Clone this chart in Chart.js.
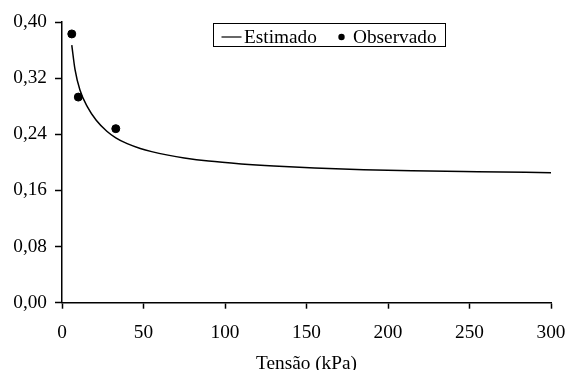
<!DOCTYPE html>
<html>
<head>
<meta charset="utf-8">
<script src="https://cdn.jsdelivr.net/npm/chart.js@4/dist/chart.umd.min.js"></script>
<style>
  html, body { margin: 0; padding: 0; background: #fff; }
  #wrap { width: 568px; height: 370px; }
</style>
</head>
<body>
<div id="wrap"><canvas id="grafico" width="568" height="370"></canvas></div>
<script>
// Curva estimada
const tensaoEst = [6, 8, 11, 15.6, 21, 27.5, 33, 40, 48, 55, 65, 75, 90, 110, 130, 155, 185, 215, 255, 300];
const umidEst = [0.367, 0.332, 0.303, 0.279, 0.260, 0.2444, 0.235, 0.2266, 0.2198, 0.2153, 0.2103, 0.2063, 0.2018, 0.1978, 0.1948, 0.192, 0.1896, 0.1881, 0.1867, 0.1853];

// Pontos observados
const tensaoObs = [6, 10, 33];
const umidObs = [0.383, 0.293, 0.248];

// Eixos
const xTicks = [0, 50, 100, 150, 200, 250, 300];
const yTicks = [0, 0.08, 0.16, 0.24, 0.32, 0.40];

const fonte = { family: "'Liberation Serif', 'Times New Roman', serif", size: 19.3 };

// Legenda com moldura dentro da área do gráfico
const legendaCaixa = {
  id: "legendaCaixa",
  afterDraw(chart) {
    const ctx = chart.ctx;
    ctx.save();
    ctx.strokeStyle = "#000";
    ctx.lineWidth = 1;
    ctx.strokeRect(213.5, 23.5, 232, 23);
    ctx.lineWidth = 1.2;
    ctx.beginPath();
    ctx.moveTo(221.5, 37);
    ctx.lineTo(241.5, 37);
    ctx.stroke();
    ctx.fillStyle = "#000";
    ctx.beginPath();
    ctx.arc(341.5, 37, 3.2, 0, Math.PI * 2);
    ctx.fill();
    ctx.font = fonte.size + "px " + fonte.family;
    ctx.textBaseline = "alphabetic";
    ctx.fillText(chart.data.datasets[0].label, 244, 43);
    ctx.fillText(chart.data.datasets[1].label, 353, 43);
    ctx.restore();
  }
};

const ctx = document.getElementById("grafico").getContext("2d");

new Chart(ctx, {
  type: "line",
  data: {
    datasets: [{
      label: "Estimado",
      data: tensaoEst.map((x, i) => ({ x: x, y: umidEst[i] })),
      borderColor: "#000",
      borderWidth: 1.5,
      pointRadius: 0,
      cubicInterpolationMode: "monotone",
      fill: false
    }, {
      label: "Observado",
      data: tensaoObs.map((x, i) => ({ x: x, y: umidObs[i] })),
      showLine: false,
      pointRadius: 4,
      pointBackgroundColor: "#000",
      pointBorderColor: "#000"
    }]
  },
  options: {
    responsive: false,
    animation: false,
    layout: { padding: { top: 22, right: 17, left: 0, bottom: 0 } },
    plugins: {
      legend: { display: false },
      tooltip: { enabled: false }
    },
    scales: {
      x: {
        type: "linear",
        min: 0,
        max: 300,
        afterBuildTicks: s => { s.ticks = xTicks.map(v => ({ value: v })); },
        afterFit: s => { s.height = 67.3; },
        grid: { display: true, drawOnChartArea: false, drawTicks: true, tickLength: 6, tickColor: "#000", tickWidth: 1.5 },
        border: { display: true, color: "#000", width: 1.5 },
        ticks: {
          color: "#000",
          font: { family: fonte.family, size: fonte.size, lineHeight: 2.3 },
          padding: 2,
          maxRotation: 0
        },
        title: {
          display: true,
          text: "Tensão (kPa)",
          color: "#000",
          font: { family: fonte.family, size: fonte.size, lineHeight: 0.6 },
          padding: { top: 0, bottom: 0 }
        }
      },
      y: {
        type: "linear",
        min: 0,
        max: 0.4,
        afterBuildTicks: s => { s.ticks = yTicks.map(v => ({ value: v })); },
        afterFit: s => { s.width = 62; },
        grid: { display: true, drawOnChartArea: false, drawTicks: true, tickLength: 7, tickColor: "#000", tickWidth: 1.5 },
        border: { display: true, color: "#000", width: 1.5 },
        ticks: {
          color: "#000",
          font: fonte,
          padding: 8,
          callback: v => v.toFixed(2).replace(".", ",")
        }
      }
    }
  },
  plugins: [legendaCaixa]
});
</script>
</body>
</html>
